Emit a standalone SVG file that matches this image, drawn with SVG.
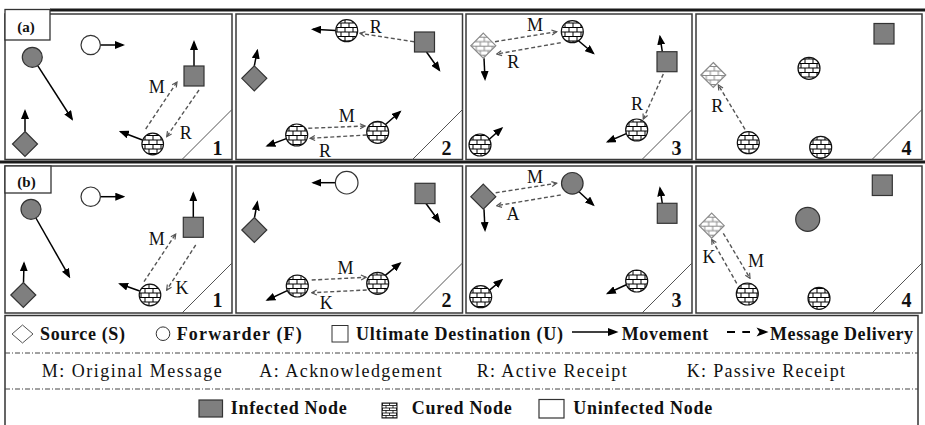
<svg xmlns="http://www.w3.org/2000/svg" xmlns:xlink="http://www.w3.org/1999/xlink" width="925" height="425" viewBox="0 0 925 425">
<style>
.pan{fill:#fff;stroke:#3a3a3a;stroke-width:1.5}
.tagbox{fill:#fff;stroke:#333;stroke-width:1.3}
.inf{fill:#7f7f7f;stroke:#333;stroke-width:1.2}
.unf{fill:#fff;stroke:#333;stroke-width:1.2}
.cur{fill:url(#brick);stroke:#111;stroke-width:1.2}
.curd{fill:url(#brickg);stroke:#8a8a8a;stroke-width:1.2}
.mv{stroke:#000;stroke-width:1.5;fill:none;marker-end:url(#ah)}
.dl{stroke:#555;stroke-width:1.4;stroke-dasharray:4 2.5;fill:none;marker-end:url(#oh)}
.diag{stroke:#555;stroke-width:1}
.thick{stroke:#1a1a1a;stroke-width:3}
.sep{stroke:#444;stroke-width:1;stroke-dasharray:5 2 1 2}
.lbl,.num,.tag,.lg,.lg2{font-family:'Liberation Serif','Times New Roman',serif;fill:#111}
.lbl{font-size:18px;text-anchor:middle}
.num{font-size:20px;font-weight:bold;text-anchor:middle}
.tag{font-size:15px;font-weight:bold;text-anchor:middle}
.lg{font-size:18px;font-weight:bold}
.lg2{font-size:18px}
</style>
<defs>
<pattern id="brick" patternUnits="userSpaceOnUse" width="8" height="9">
<rect width="8" height="9" fill="#fff"/>
<path d="M0,0.5H8M0,5H8M1,0.5V5M5,5V9" stroke="#000" stroke-width="1" fill="none"/>
</pattern>
<pattern id="brickg" patternUnits="userSpaceOnUse" width="8" height="9">
<rect width="8" height="9" fill="#fff"/>
<path d="M0,0.5H8M0,5H8M1,0.5V5M5,5V9" stroke="#8a8a8a" stroke-width="1" fill="none"/>
</pattern>
<pattern id="brickl" patternUnits="userSpaceOnUse" width="7" height="5">
<rect width="7" height="5" fill="#fff"/>
<path d="M0,0.5H7M0,3H7M1,0.5V3M4.5,3V5" stroke="#000" stroke-width="0.8" fill="none"/>
</pattern>
<marker id="ah" markerUnits="userSpaceOnUse" markerWidth="10" markerHeight="8" viewBox="0 0 10 8" refX="8" refY="4" orient="auto">
<path d="M0,0L10,4L0,8z" fill="#000"/>
</marker>
<marker id="oh" markerUnits="userSpaceOnUse" markerWidth="7" markerHeight="7" viewBox="0 0 7 7" refX="6" refY="3.5" orient="auto">
<path d="M1,1L6,3.5L1,6" fill="none" stroke="#555" stroke-width="1.2"/>
</marker>
<path id="dm" d="M0,-12.5L12.5,0L0,12.5L-12.5,0Z"/>
</defs>

<rect width="925" height="425" fill="#fff"/>

<g id="panels">
<rect class="pan" x="5" y="14" width="227" height="145.5"/>
<rect class="pan" x="236" y="14" width="226.5" height="145.5"/>
<rect class="pan" x="466" y="14" width="226" height="145.5"/>
<rect class="pan" x="696" y="14" width="226" height="145.5"/>
<rect class="pan" x="5" y="166" width="227" height="147"/>
<rect class="pan" x="236" y="166" width="226.5" height="147"/>
<rect class="pan" x="466" y="166" width="226" height="147"/>
<rect class="pan" x="696" y="166" width="226" height="147"/>
<line class="thick" x1="50" y1="10" x2="925" y2="10"/>
<line class="thick" x1="0" y1="162" x2="925" y2="162"/>
<rect class="tagbox" x="5" y="9.5" width="45" height="30.5"/>
<text class="tag" x="26" y="31.5">(a)</text>
<rect class="tagbox" x="5" y="166" width="46" height="27"/>
<text class="tag" x="26.5" y="186.5">(b)</text>
<line class="diag" x1="182" y1="159.5" x2="232" y2="109.5"/>
<line class="diag" x1="412.5" y1="159.5" x2="462.5" y2="109.5"/>
<line class="diag" x1="642" y1="159.5" x2="692" y2="109.5"/>
<line class="diag" x1="872" y1="159.5" x2="922" y2="109.5"/>
<line class="diag" x1="182" y1="313" x2="232" y2="263"/>
<line class="diag" x1="412.5" y1="313" x2="462.5" y2="263"/>
<line class="diag" x1="642" y1="313" x2="692" y2="263"/>
<line class="diag" x1="872" y1="313" x2="922" y2="263"/>
<text class="num" x="217.5" y="155">1</text>
<text class="num" x="446.5" y="155">2</text>
<text class="num" x="676.5" y="155">3</text>
<text class="num" x="906.5" y="155">4</text>
<text class="num" x="217.5" y="306.5">1</text>
<text class="num" x="446.5" y="306.5">2</text>
<text class="num" x="676.5" y="306.5">3</text>
<text class="num" x="906.5" y="306.5">4</text>
</g>

<g id="connectors">
<!-- a1 -->
<line class="mv" x1="37.7" y1="65.7" x2="72" y2="119"/>
<line class="mv" x1="100.4" y1="45" x2="123" y2="45"/>
<line class="mv" x1="25" y1="131.5" x2="25" y2="111"/>
<line class="mv" x1="194" y1="66" x2="194" y2="42"/>
<line class="mv" x1="142.4" y1="140" x2="120.7" y2="131.7"/>
<line class="dl" x1="145.7" y1="129" x2="177" y2="82"/>
<line class="dl" x1="199" y1="90" x2="166.7" y2="136.7"/>
<text class="lbl" x="156.7" y="93.3">M</text>
<text class="lbl" x="185.7" y="138.5">R</text>
<!-- a2 -->
<line class="mv" x1="335.7" y1="30.5" x2="313" y2="29.3"/>
<line class="dl" x1="414" y1="41.7" x2="360" y2="33.3"/>
<line class="mv" x1="426.5" y1="52" x2="439.3" y2="70"/>
<line class="mv" x1="254.3" y1="65.8" x2="257.3" y2="50.7"/>
<line class="mv" x1="286.3" y1="138.6" x2="267.3" y2="145.7"/>
<line class="mv" x1="385.5" y1="124.5" x2="400" y2="111.7"/>
<line class="dl" x1="308.3" y1="128.3" x2="365" y2="126"/>
<line class="dl" x1="366.7" y1="135" x2="310" y2="138.3"/>
<text class="lbl" x="375.8" y="33.3">R</text>
<text class="lbl" x="346.7" y="121.7">M</text>
<text class="lbl" x="325" y="156.7">R</text>
<!-- a3 -->
<line class="mv" x1="484" y1="58.2" x2="485" y2="79"/>
<line class="mv" x1="578.5" y1="40.8" x2="593.3" y2="53.3"/>
<line class="dl" x1="495" y1="41.7" x2="556.7" y2="31.7"/>
<line class="dl" x1="560.7" y1="42.7" x2="496.7" y2="54"/>
<line class="mv" x1="662.3" y1="51.7" x2="660" y2="36.7"/>
<line class="dl" x1="663.3" y1="74" x2="643.3" y2="119"/>
<line class="mv" x1="626.3" y1="133.6" x2="607.7" y2="141.7"/>
<line class="mv" x1="489.3" y1="139.2" x2="501.7" y2="128.3"/>
<text class="lbl" x="535" y="30.7">M</text>
<text class="lbl" x="513.3" y="68.3">R</text>
<text class="lbl" x="637" y="110">R</text>
<!-- a4 -->
<line class="dl" x1="745" y1="129.3" x2="718.3" y2="85"/>
<text class="lbl" x="717.3" y="111.7">R</text>
<!-- b1 -->
<line class="mv" x1="35.9" y1="218" x2="69.3" y2="276.7"/>
<line class="mv" x1="100.4" y1="196.7" x2="123.3" y2="196.7"/>
<line class="mv" x1="23.5" y1="282.5" x2="24" y2="263.3"/>
<line class="mv" x1="193.3" y1="217.3" x2="193.3" y2="193.3"/>
<line class="mv" x1="139.7" y1="291" x2="120" y2="284"/>
<line class="dl" x1="144" y1="281.7" x2="175.7" y2="234"/>
<line class="dl" x1="195.7" y1="245" x2="166.7" y2="290"/>
<text class="lbl" x="156.7" y="245">M</text>
<text class="lbl" x="182" y="293.5">K</text>
<!-- b2 -->
<line class="mv" x1="335.7" y1="182.7" x2="313.3" y2="182.7"/>
<line class="mv" x1="426" y1="203.5" x2="439.3" y2="221.7"/>
<line class="mv" x1="254.5" y1="217.5" x2="257.3" y2="202.3"/>
<line class="mv" x1="287.3" y1="290.6" x2="267.3" y2="300"/>
<line class="mv" x1="385.3" y1="275.3" x2="400" y2="263.3"/>
<line class="dl" x1="311.7" y1="280" x2="366" y2="277.3"/>
<line class="dl" x1="366.7" y1="290" x2="311.7" y2="292.7"/>
<text class="lbl" x="345.5" y="274">M</text>
<text class="lbl" x="326.3" y="309">K</text>
<!-- b3 -->
<line class="mv" x1="484" y1="209.2" x2="485" y2="230"/>
<line class="mv" x1="579" y1="191.7" x2="593.3" y2="205"/>
<line class="dl" x1="495.7" y1="192.7" x2="556.7" y2="183.3"/>
<line class="dl" x1="560.7" y1="195" x2="496.7" y2="205.7"/>
<line class="mv" x1="662.3" y1="203.3" x2="660" y2="188.3"/>
<line class="mv" x1="626.3" y1="284.8" x2="607.7" y2="293.3"/>
<line class="mv" x1="489.5" y1="290.2" x2="501.7" y2="280"/>
<text class="lbl" x="535" y="182.7">M</text>
<text class="lbl" x="513" y="220">A</text>
<!-- b4 -->
<line class="dl" x1="736.7" y1="283.3" x2="711.7" y2="239.3"/>
<line class="dl" x1="723.3" y1="233.3" x2="750" y2="278.3"/>
<text class="lbl" x="709" y="263.3">K</text>
<text class="lbl" x="756" y="266.7">M</text>
</g>

<!-- panel a1 nodes -->
<g id="a1-forwarder-infected"><circle class="inf" cx="32.3" cy="57.3" r="10"/></g>
<g id="a1-forwarder-uninfected"><circle class="unf" cx="90.7" cy="45" r="9.7"/></g>
<g id="a1-source"><use xlink:href="#dm" x="25" y="144" class="inf"/></g>
<g id="a1-destination"><rect class="inf" x="184" y="66" width="20" height="20"/></g>
<g id="a1-forwarder-cured"><circle class="cur" cx="152.7" cy="144" r="10.8"/></g>
<!-- panel a2 nodes -->
<g id="a2-forwarder-cured-top"><circle class="cur" cx="346.7" cy="30.7" r="11"/></g>
<g id="a2-destination"><rect class="inf" x="414.5" y="32" width="20" height="20"/></g>
<g id="a2-source"><use xlink:href="#dm" x="254.3" y="78.3" class="inf"/></g>
<g id="a2-forwarder-cured-left"><circle class="cur" cx="296.7" cy="135" r="11"/></g>
<g id="a2-forwarder-cured-right"><circle class="cur" cx="377.7" cy="132.3" r="11"/></g>
<!-- panel a3 nodes -->
<g id="a3-source"><use xlink:href="#dm" x="483.3" y="45.7" class="curd"/></g>
<g id="a3-forwarder-cured-top"><circle class="cur" cx="572.3" cy="31.7" r="11"/></g>
<g id="a3-destination"><rect class="inf" x="657" y="51.7" width="20" height="20"/></g>
<g id="a3-forwarder-cured-right"><circle class="cur" cx="636.7" cy="130" r="11"/></g>
<g id="a3-forwarder-cured-left"><circle class="cur" cx="480" cy="145" r="11"/></g>
<!-- panel a4 nodes -->
<g id="a4-destination"><rect class="inf" x="874" y="23.5" width="20" height="20.5"/></g>
<g id="a4-forwarder-cured-top"><circle class="cur" cx="809" cy="68.3" r="11"/></g>
<g id="a4-source"><use xlink:href="#dm" x="713.3" y="75" class="curd"/></g>
<g id="a4-forwarder-cured-left"><circle class="cur" cx="748.3" cy="142.7" r="11"/></g>
<g id="a4-forwarder-cured-right"><circle class="cur" cx="820.7" cy="147.3" r="11"/></g>
<!-- panel b1 nodes -->
<g id="b1-forwarder-infected"><circle class="inf" cx="31" cy="209.3" r="10"/></g>
<g id="b1-forwarder-uninfected"><circle class="unf" cx="90.7" cy="196.7" r="9.7"/></g>
<g id="b1-source"><use xlink:href="#dm" x="23.3" y="295" class="inf"/></g>
<g id="b1-destination"><rect class="inf" x="183.3" y="217.3" width="20" height="20"/></g>
<g id="b1-forwarder-cured"><circle class="cur" cx="150" cy="295" r="10.8"/></g>
<!-- panel b2 nodes -->
<g id="b2-forwarder-uninfected"><circle class="unf" cx="346.7" cy="182.7" r="11.3"/></g>
<g id="b2-destination"><rect class="inf" x="415" y="183.3" width="20" height="20.3"/></g>
<g id="b2-source"><use xlink:href="#dm" x="254.3" y="230" class="inf"/></g>
<g id="b2-forwarder-cured-left"><circle class="cur" cx="297.3" cy="286" r="11"/></g>
<g id="b2-forwarder-cured-right"><circle class="cur" cx="377.7" cy="283.3" r="11"/></g>
<!-- panel b3 nodes -->
<g id="b3-source"><use xlink:href="#dm" x="483.3" y="196.7" class="inf"/></g>
<g id="b3-forwarder-infected"><circle class="inf" cx="572.3" cy="183.3" r="10.8"/></g>
<g id="b3-destination"><rect class="inf" x="657.3" y="203.3" width="19.7" height="20"/></g>
<g id="b3-forwarder-cured-right"><circle class="cur" cx="636.7" cy="281" r="11"/></g>
<g id="b3-forwarder-cured-left"><circle class="cur" cx="480.7" cy="296.7" r="11"/></g>
<!-- panel b4 nodes -->
<g id="b4-destination"><rect class="inf" x="872.3" y="175" width="20" height="20.5"/></g>
<g id="b4-forwarder-infected"><circle class="inf" cx="807.7" cy="219.3" r="12"/></g>
<g id="b4-source"><use xlink:href="#dm" x="711.7" y="225.7" class="curd"/></g>
<g id="b4-forwarder-cured-left"><circle class="cur" cx="747.3" cy="294" r="11"/></g>
<g id="b4-forwarder-cured-right"><circle class="cur" cx="819" cy="298.3" r="11"/></g>

<g id="legend">
<rect x="5" y="315.5" width="913" height="120" fill="#fff" stroke="#333" stroke-width="1.5"/>
<line class="sep" x1="5" y1="353" x2="918" y2="353"/>
<line class="sep" x1="5" y1="389" x2="918" y2="389"/>
<path d="M22.5,325L33,334L22.5,343L12,334Z" fill="#fff" stroke="#555" stroke-width="1"/>
<text class="lg" x="40" y="340" textLength="85" lengthAdjust="spacing">Source (S)</text>
<circle cx="163" cy="333.7" r="6.8" fill="#fff" stroke="#333" stroke-width="1"/>
<text class="lg" x="176.7" y="340" textLength="125" lengthAdjust="spacing">Forwarder (F)</text>
<rect x="332" y="325.5" width="16" height="16.5" fill="#fff" stroke="#333" stroke-width="1"/>
<text class="lg" x="356" y="340" textLength="207" lengthAdjust="spacing">Ultimate Destination (U)</text>
<line x1="572" y1="332" x2="612" y2="332" stroke="#000" stroke-width="1.5"/>
<path d="M608,328L618.5,332L608,336Z" fill="#000"/>
<text class="lg" x="621.7" y="340" textLength="86.6" lengthAdjust="spacing">Movement</text>
<path d="M727,332H735M742.3,332H750" stroke="#000" stroke-width="2"/>
<path d="M756.5,327.5L768.5,332L756.5,336.5L759.5,332Z" fill="#000"/>
<text class="lg" x="770" y="340" textLength="143" lengthAdjust="spacing">Message Delivery</text>

<text class="lg2" x="41.7" y="377" textLength="180" lengthAdjust="spacing">M: Original Message</text>
<text class="lg2" x="259.3" y="377" textLength="182.4" lengthAdjust="spacing">A: Acknowledgement</text>
<text class="lg2" x="476.7" y="377" textLength="150" lengthAdjust="spacing">R: Active Receipt</text>
<text class="lg2" x="686.7" y="377" textLength="158.3" lengthAdjust="spacing">K: Passive Receipt</text>

<rect class="inf" x="199" y="400" width="23.5" height="17"/>
<text class="lg" x="230.7" y="414" textLength="116" lengthAdjust="spacing">Infected Node</text>
<rect x="382" y="403" width="15" height="15" fill="url(#brickl)" stroke="#111" stroke-width="1"/>
<text class="lg" x="411.7" y="414" textLength="100" lengthAdjust="spacing">Cured Node</text>
<rect x="539" y="399.5" width="25" height="18.5" fill="#fff" stroke="#333" stroke-width="1.2"/>
<text class="lg" x="573.3" y="414" textLength="139" lengthAdjust="spacing">Uninfected Node</text>
</g>
</svg>
